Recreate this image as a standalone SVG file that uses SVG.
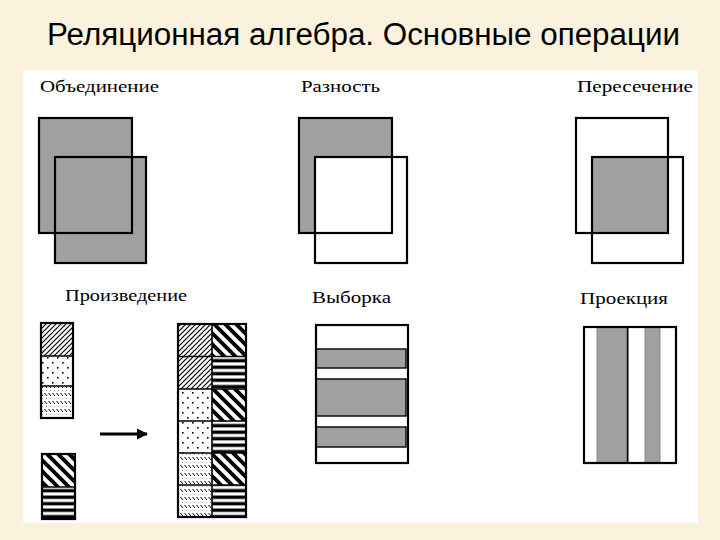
<svg xmlns="http://www.w3.org/2000/svg" width="720" height="540" viewBox="0 0 720 540">
<defs>
<style>
.lbl{font-family:"Liberation Serif","Times New Roman",serif;font-size:16px;fill:#000}
.title{font-family:"Liberation Sans",Arial,sans-serif;font-size:31px;fill:#000}
.g{fill:#a0a0a0}
.w{fill:#fff}
.o{fill:none;stroke:#000;stroke-width:2.2}
.t{fill:none;stroke:#000;stroke-width:1.6}
</style>
<pattern id="hatch" width="5" height="5" patternUnits="userSpaceOnUse">
<rect width="5" height="5" fill="#fff"/>
<path d="M-1,6 L6,-1 M-1,1 L1,-1 M4,6 L6,4" stroke="#000" stroke-width="1.2"/>
</pattern>
<pattern id="dots" width="10" height="10" patternUnits="userSpaceOnUse">
<rect width="10" height="10" fill="#fff"/>
<rect x="2" y="2" width="1.6" height="1.6" fill="#000"/>
<rect x="7" y="7" width="1.6" height="1.6" fill="#000"/>
</pattern>
<pattern id="dashd" width="4" height="8" patternUnits="userSpaceOnUse">
<rect width="4" height="8" fill="#fff"/>
<path d="M0.5,1 L3,4" stroke="#000" stroke-width="1"/>
<rect x="2" y="6" width="1" height="1" fill="#999"/>
</pattern>
<pattern id="thick" width="11" height="11" patternUnits="userSpaceOnUse">
<rect width="11" height="11" fill="#fff"/>
<path d="M-3,-3 L14,14 M-3,8 L3,14 M8,-3 L14,3" stroke="#000" stroke-width="3.8"/>
</pattern>
<pattern id="horiz" width="6.5" height="6.5" patternUnits="userSpaceOnUse">
<rect width="6.5" height="6.5" fill="#fff"/>
<rect y="1.5" width="6.5" height="3.4" fill="#000"/>
</pattern>
<marker id="ah" viewBox="0 0 10 10" refX="9" refY="5" markerWidth="3.6" markerHeight="3.6" orient="auto" markerUnits="strokeWidth">
<path d="M0,0 L10,5 L0,10 z" fill="#000"/>
</marker>
</defs>
<rect width="720" height="540" fill="#fbf2dd"/>
<rect x="23" y="70" width="675" height="453" fill="#fff"/>
<text class="title" x="47" y="45" textLength="633" lengthAdjust="spacingAndGlyphs">Реляционная алгебра. Основные операции</text>

<g id="union">
<text class="lbl" x="40" y="92" textLength="119" lengthAdjust="spacingAndGlyphs">Объединение</text>
<rect class="g" x="39" y="118" width="93" height="115"/>
<rect class="g" x="55" y="157" width="91" height="106"/>
<rect class="o" x="39" y="118" width="93" height="115"/>
<rect class="o" x="55" y="157" width="91" height="106"/>
</g>

<g id="difference">
<text class="lbl" x="301" y="92" textLength="79" lengthAdjust="spacingAndGlyphs">Разность</text>
<rect class="g" x="299" y="118" width="93" height="115"/>
<rect class="w" x="315" y="157" width="92" height="106"/>
<rect class="o" x="299" y="118" width="93" height="115"/>
<rect class="o" x="315" y="157" width="92" height="106"/>
</g>

<g id="intersection">
<text class="lbl" x="577" y="92" textLength="116" lengthAdjust="spacingAndGlyphs">Пересечение</text>
<rect class="g" x="592" y="157" width="76" height="76"/>
<rect class="o" x="576" y="118" width="92" height="115"/>
<rect class="o" x="592" y="157" width="91" height="106"/>
</g>

<g id="product">
<text class="lbl" x="65" y="301" textLength="122" lengthAdjust="spacingAndGlyphs">Произведение</text>
<g id="relA">
<rect x="41" y="323" width="32" height="33" fill="url(#hatch)"/>
<rect x="41" y="356" width="32" height="30" fill="url(#dots)"/>
<rect x="41" y="386" width="32" height="32" fill="url(#dashd)"/>
<path class="t" d="M41,356 H73 M41,386 H73"/>
<rect class="o" x="41" y="323" width="32" height="95"/>
</g>
<g id="relB">
<rect x="42" y="454" width="33" height="33" fill="url(#thick)"/>
<rect x="42" y="487" width="33" height="32" fill="url(#horiz)"/>
<path class="t" d="M42,487 H75"/>
<rect class="o" x="42" y="454" width="33" height="65"/>
</g>
<g id="result">
<rect x="178" y="324" width="34" height="65" fill="url(#hatch)"/>
<rect x="178" y="389" width="34" height="64" fill="url(#dots)"/>
<rect x="178" y="453" width="34" height="64" fill="url(#dashd)"/>
<rect x="212" y="324" width="34" height="32" fill="url(#thick)"/>
<rect x="212" y="356" width="34" height="33" fill="url(#horiz)"/>
<rect x="212" y="389" width="34" height="32" fill="url(#thick)"/>
<rect x="212" y="421" width="34" height="32" fill="url(#horiz)"/>
<rect x="212" y="453" width="34" height="32" fill="url(#thick)"/>
<rect x="212" y="485" width="34" height="32" fill="url(#horiz)"/>
<path class="t" d="M178,356.5 H246 M178,389 H246 M178,421 H246 M178,453 H246 M178,485 H246 M212,324 V517"/>
<rect class="o" x="178" y="324" width="68" height="193"/>
</g>
</g>

<g id="selection">
<text class="lbl" x="312" y="303" textLength="79" lengthAdjust="spacingAndGlyphs">Выборка</text>
<rect class="w" x="316" y="325" width="92" height="138"/>
<rect class="g" x="316" y="349" width="90" height="19" stroke="#000" stroke-width="1.4"/>
<rect class="g" x="316" y="379" width="90" height="37" stroke="#000" stroke-width="1.4"/>
<rect class="g" x="316" y="427" width="90" height="20" stroke="#000" stroke-width="1.4"/>
<rect class="o" x="316" y="325" width="92" height="138"/>
</g>

<g id="projection">
<text class="lbl" x="580" y="304" textLength="88" lengthAdjust="spacingAndGlyphs">Проекция</text>
<rect class="w" x="584" y="327" width="92" height="136"/>
<rect class="g" x="597" y="327" width="29" height="136"/>
<rect class="g" x="645" y="327" width="15" height="136"/>
<path d="M627.5,327 V463" stroke="#000" stroke-width="2"/>
<path d="M597,327 V463 M645,327 V463 M660,327 V463" stroke="#777" stroke-width="0.8"/>
<rect class="o" x="584" y="327" width="92" height="136"/>
</g>

<g id="connectors">
<path d="M100,434 H147" stroke="#000" stroke-width="3.2" marker-end="url(#ah)"/>
</g>
</svg>
